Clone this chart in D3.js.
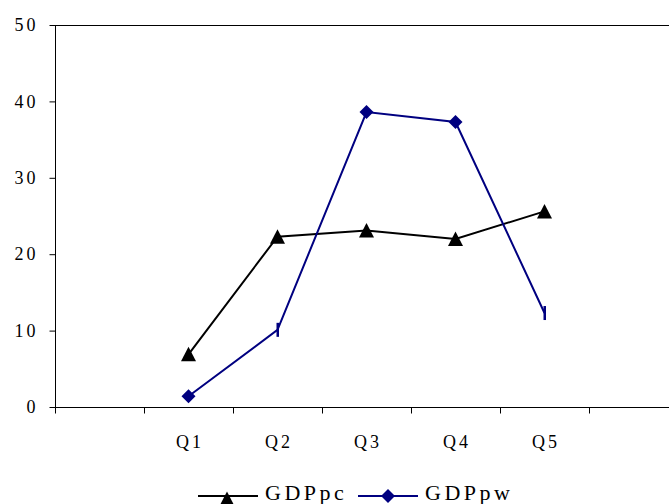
<!DOCTYPE html>
<html>
<head>
  <script type="text/javascript" src="https://d3js.org/d3.v7.min.js"></script>
  <style>
    html, body {
      margin: 0;
      overflow: hidden;
      background-color: white;
    }
    svg {
      display: block;
    }
  </style>
</head>
<body>
  <svg id="canvas" width="669" height="504"></svg>
</body>
<script>
  // categories, with empty slots either side as in the original chart
  const categories = ["", "Q1", "Q2", "Q3", "Q4", "Q5", ""];
  const quarters = ["Q1", "Q2", "Q3", "Q4", "Q5"];
  const gdpPc = [6.9, 22.3, 23.1, 22.0, 25.6];
  const gdpPw = [1.4, 10.1, 38.6, 37.3, 12.3];
  const yTicks = [0, 10, 20, 30, 40, 50];

  const serif = "'Liberation Serif', 'Times New Roman', Times, serif";

  let svg = d3.select("svg");
  let plot = { left: 55, right: 678, top: 25, bottom: 407 };

  let x = d3.scaleBand().domain(categories.map((d, i) => i)).range([plot.left, plot.right]);
  let y = d3.scaleLinear().domain([0, 50]).range([plot.bottom, plot.top]);

  // plot border: top and left (right edge falls outside the window)
  svg.append("line").attr("x1", plot.left).attr("x2", plot.right)
      .attr("y1", plot.top + 0.5).attr("y2", plot.top + 0.5).attr("stroke", "#000");
  svg.append("line").attr("x1", plot.left + 0.5).attr("x2", plot.left + 0.5)
      .attr("y1", plot.top).attr("y2", plot.bottom).attr("stroke", "#000");

  // y axis
  let yAxis = svg.append("g").attr("transform", `translate(${plot.left + 0.5},0)`)
      .call(d3.axisLeft(y).tickValues(yTicks).tickSize(6).tickPadding(11));
  yAxis.attr("font-family", serif).attr("font-size", 18);
  yAxis.select(".domain").remove();
  yAxis.selectAll("line").attr("stroke", "#000");
  yAxis.selectAll("text").attr("fill", "#000").style("letter-spacing", "3px");

  // x axis: ticks on band boundaries, labels at band centers
  let xg = svg.append("g").attr("transform", `translate(0,${plot.bottom + 0.5})`)
      .attr("font-family", serif).attr("font-size", 18);
  xg.append("line").attr("x1", plot.left).attr("x2", plot.right).attr("stroke", "#000");
  xg.selectAll(".tk").data(categories.map((d, i) => i)).enter().append("line")
      .attr("x1", d => Math.round(x(d)) + 0.5).attr("x2", d => Math.round(x(d)) + 0.5)
      .attr("y1", 0).attr("y2", 6).attr("stroke", "#000");
  xg.selectAll(".lbl").data(categories).enter().append("text")
      .attr("x", (d, i) => x(i) + x.bandwidth() / 2 + 1.5)
      .attr("y", 40)
      .attr("text-anchor", "middle")
      .style("letter-spacing", "3px")
      .text(d => d);

  let px = (d, i) => x(categories.indexOf(quarters[i])) + x.bandwidth() / 2;
  let line = d3.line().x((d, i) => px(d, i)).y(d => y(d));

  // marker shapes, centred on the bounding box like the original
  let tri = "M0,-7.5L7.5,7L-7.5,7Z";
  let dia = "M0,-7L7,0L0,7L-7,0Z";

  // GDPpc
  svg.append("path").datum(gdpPc).attr("d", line)
      .attr("fill", "none").attr("stroke", "#000").attr("stroke-width", 2);
  svg.selectAll(".pc").data(gdpPc).enter().append("path")
      .attr("transform", (d, i) => `translate(${px(d, i)},${y(d)})`)
      .attr("d", tri).attr("fill", "#000");

  // GDPpw
  svg.append("path").datum(gdpPw).attr("d", line)
      .attr("fill", "none").attr("stroke", "#000080").attr("stroke-width", 2);
  svg.selectAll(".pw").data(gdpPw).enter().append("g")
      .attr("transform", (d, i) => `translate(${px(d, i)},${y(d)})`)
      .each(function(d, i) {
        // Q2 and Q5 markers show up as thin bars in the original
        if (i === 1 || i === 4) {
          d3.select(this).append("rect").attr("x", -1).attr("y", -7).attr("width", 2.5).attr("height", 14)
              .attr("fill", "#000080");
        } else {
          d3.select(this).append("path").attr("d", dia).attr("fill", "#000080");
        }
      });

  // legend
  let lg = svg.append("g").attr("transform", "translate(0,496)")
      .attr("font-family", serif).attr("font-size", 22);
  lg.append("line").attr("x1", 198).attr("x2", 258).attr("stroke", "#000").attr("stroke-width", 2);
  lg.append("path").attr("transform", "translate(227,3)").attr("d", tri).attr("fill", "#000");
  lg.append("text").attr("x", 265).attr("y", 4).style("letter-spacing", "3.5px").text("GDPpc");
  lg.append("line").attr("x1", 358).attr("x2", 418).attr("stroke", "#000080").attr("stroke-width", 2);
  lg.append("path").attr("transform", "translate(388,0)").attr("d", dia).attr("fill", "#000080");
  lg.append("text").attr("x", 425).attr("y", 4).style("letter-spacing", "3.5px").text("GDPpw");
</script>
</html>
